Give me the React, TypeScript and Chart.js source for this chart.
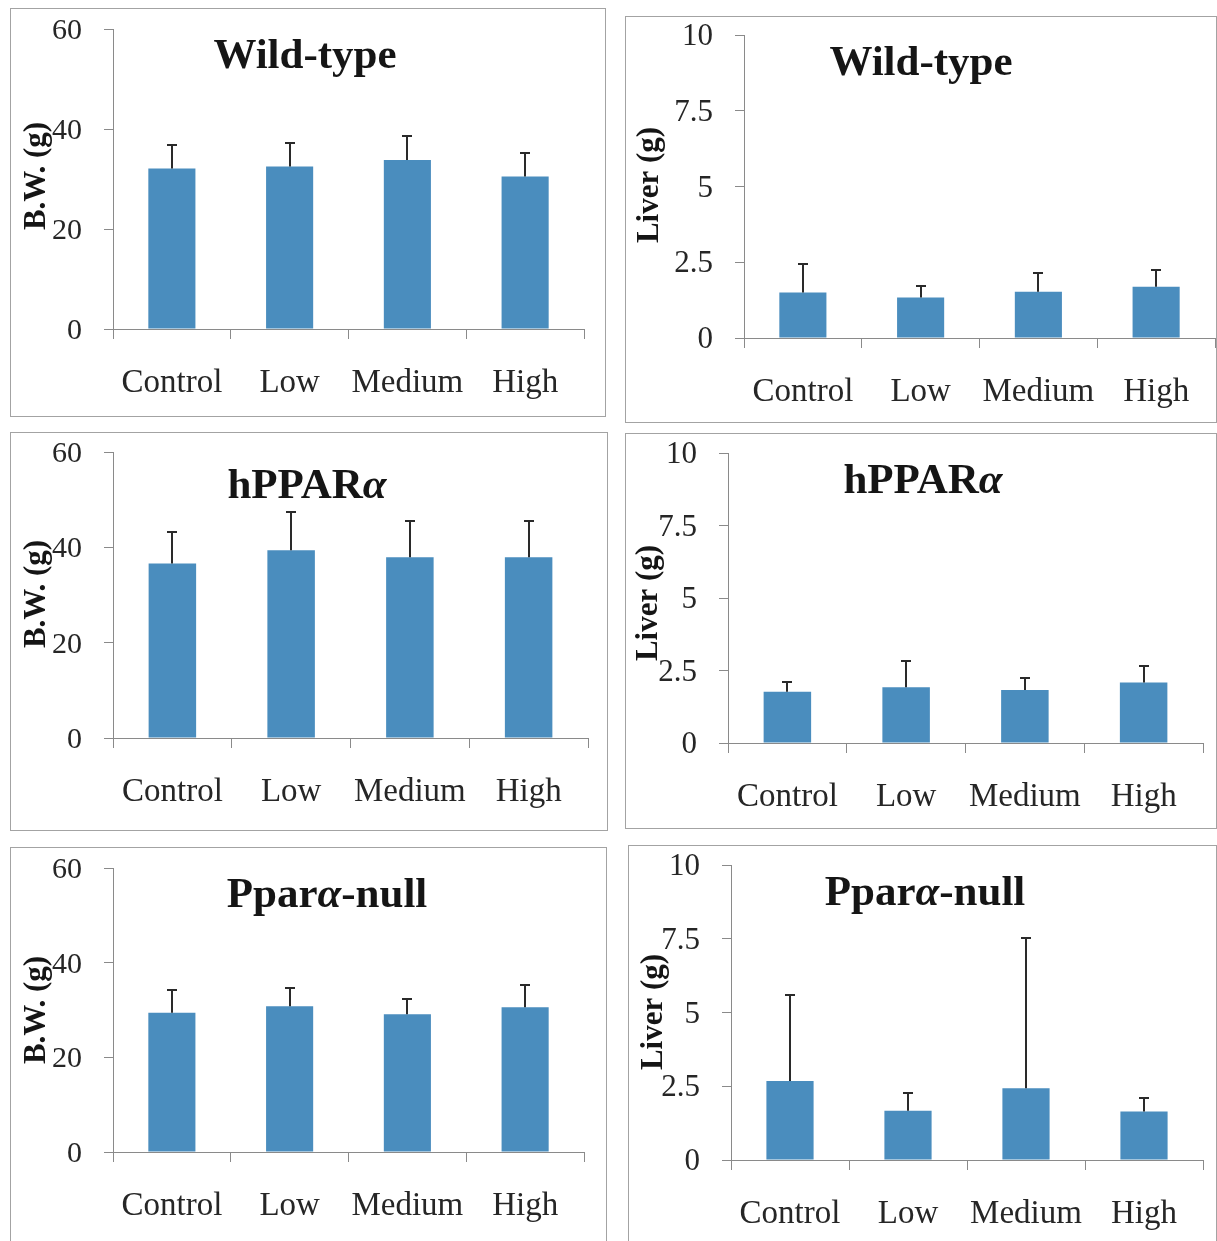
import { useEffect, useRef } from "react";
import { Chart, registerables } from "chart.js";

Chart.register(...registerables);

// ---------- data ----------
const categories = ["Control", "Low", "Medium", "High"];
const bwTicks = [0, 20, 40, 60];
const liverTicks = [0, 2.5, 5, 7.5, 10];

const wildBW = [32.1, 32.5, 33.8, 30.5];
const wildBWsd = [4.8, 4.8, 4.9, 4.8];
const wildLiver = [1.5, 1.34, 1.53, 1.69];
const wildLiversd = [0.93, 0.38, 0.63, 0.54];

const hBW = [36.6, 39.4, 37.9, 37.9];
const hBWsd = [6.7, 8.1, 7.7, 7.7];
const hLiver = [1.77, 1.92, 1.83, 2.09];
const hLiversd = [0.34, 0.92, 0.4, 0.58];

const nullBW = [29.4, 30.8, 29.1, 30.6];
const nullBWsd = [4.8, 3.8, 3.2, 4.7];
const nullLiver = [2.68, 1.67, 2.43, 1.64];
const nullLiversd = [2.91, 0.59, 5.09, 0.45];

const titleWild = [{ text: "Wild-type" }];
const titleH = [{ text: "hPPAR" }, { text: "α", italic: true }];
const titleNull = [{ text: "Ppar" }, { text: "α", italic: true }, { text: "-null" }];

const yTitleBW = "B.W. (g)";
const yTitleLiver = "Liver (g)";

// ---------- styles ----------
const FAMILY = "'Liberation Serif', 'Times New Roman', serif";
const BAR = "#4a8dbe";
const AXIS = "#8a8a8a";
const TXT = "#262626";
const YW = 85;
const XH = 80;

type Seg = { text: string; italic?: boolean };
type PanelDef = {
  key: string;
  title: Seg[];
  yTitle: string;
  means: number[];
  sds: number[];
  ticks: number[];
  box: { x: number; y: number; w: number; h: number };
  area: { l: number; t: number; r: number; b: number };
  titlePos: { x: number; base: number };
  yTitlePos: { x: number; y: number };
  noBottom?: boolean;
  tickFont: number;
};

const panels: PanelDef[] = [
  {
    key: "tl", title: titleWild, yTitle: yTitleBW, means: wildBW, sds: wildBWsd, ticks: bwTicks,
    box: { x: 10, y: 8, w: 596, h: 409 }, area: { l: 113, t: 29, r: 584, b: 329 },
    titlePos: { x: 305, base: 68 }, yTitlePos: { x: 45, y: 176 }, tickFont: 30,
  },
  {
    key: "tr", title: titleWild, yTitle: yTitleLiver, means: wildLiver, sds: wildLiversd, ticks: liverTicks,
    box: { x: 625, y: 16, w: 592, h: 407 }, area: { l: 744, t: 35, r: 1215, b: 338 },
    titlePos: { x: 921, base: 75 }, yTitlePos: { x: 658, y: 185 }, tickFont: 31,
  },
  {
    key: "ml", title: titleH, yTitle: yTitleBW, means: hBW, sds: hBWsd, ticks: bwTicks,
    box: { x: 10, y: 432, w: 598, h: 399 }, area: { l: 113, t: 452, r: 588, b: 738 },
    titlePos: { x: 307, base: 498 }, yTitlePos: { x: 45, y: 594 }, tickFont: 30,
  },
  {
    key: "mr", title: titleH, yTitle: yTitleLiver, means: hLiver, sds: hLiversd, ticks: liverTicks,
    box: { x: 625, y: 433, w: 592, h: 396 }, area: { l: 728, t: 453, r: 1203, b: 743 },
    titlePos: { x: 923, base: 493 }, yTitlePos: { x: 657, y: 603 }, tickFont: 31,
  },
  {
    key: "bl", title: titleNull, yTitle: yTitleBW, means: nullBW, sds: nullBWsd, ticks: bwTicks,
    box: { x: 10, y: 847, w: 597, h: 394 }, area: { l: 113, t: 868, r: 584, b: 1152 },
    titlePos: { x: 327, base: 907 }, yTitlePos: { x: 45, y: 1010 }, noBottom: true, tickFont: 30,
  },
  {
    key: "br", title: titleNull, yTitle: yTitleLiver, means: nullLiver, sds: nullLiversd, ticks: liverTicks,
    box: { x: 628, y: 845, w: 589, h: 396 }, area: { l: 731, t: 865, r: 1203, b: 1160 },
    titlePos: { x: 925, base: 905 }, yTitlePos: { x: 662, y: 1012 }, noBottom: true, tickFont: 31,
  },
];

function Panel({ p }: { p: PanelDef }) {
  const ref = useRef<HTMLCanvasElement>(null);
  useEffect(() => {
    const canvas = ref.current;
    if (!canvas) return;
    const ox = p.box.x;
    const oy = p.box.y;

    const overlay = {
      id: "overlay_" + p.key,
      afterDatasetsDraw(chart: any) {
        const ctx = chart.ctx as CanvasRenderingContext2D;
        const meta = chart.getDatasetMeta(0);
        const ys = chart.scales.y;
        ctx.save();
        // error bars (upper only)
        ctx.strokeStyle = "#2a2a2a";
        ctx.lineWidth = 2;
        meta.data.forEach((bar: any, i: number) => {
          const x = Math.round(bar.x);
          const yb = ys.getPixelForValue(p.means[i]);
          const yt = Math.round(ys.getPixelForValue(p.means[i] + p.sds[i]));
          ctx.beginPath();
          ctx.moveTo(x, yb);
          ctx.lineTo(x, yt);
          ctx.moveTo(x - 5, yt);
          ctx.lineTo(x + 5, yt);
          ctx.stroke();
        });
        // panel title
        ctx.fillStyle = "#151515";
        ctx.textBaseline = "alphabetic";
        ctx.textAlign = "left";
        const fontFor = (s: Seg) => `${s.italic ? "italic " : ""}bold 43px ${FAMILY}`;
        let total = 0;
        const widths = p.title.map((s) => {
          ctx.font = fontFor(s);
          const w = ctx.measureText(s.text).width;
          total += w;
          return w;
        });
        let x = p.titlePos.x - ox - total / 2;
        p.title.forEach((s, i) => {
          ctx.font = fontFor(s);
          ctx.fillText(s.text, x, p.titlePos.base - oy);
          x += widths[i];
        });
        // y-axis title
        ctx.translate(p.yTitlePos.x - ox, p.yTitlePos.y - oy);
        ctx.rotate(-Math.PI / 2);
        ctx.font = `bold 31px ${FAMILY}`;
        ctx.textAlign = "center";
        ctx.textBaseline = "alphabetic";
        ctx.fillText(p.yTitle, 0, 0);
        ctx.restore();
      },
    };

    const chart = new Chart(canvas, {
      type: "bar",
      data: {
        labels: categories,
        datasets: [
          {
            data: p.means,
            backgroundColor: BAR,
            borderWidth: 0,
            barPercentage: 0.4,
            categoryPercentage: 1,
          },
        ],
      },
      options: {
        responsive: false,
        animation: false,
        devicePixelRatio: 1,
        layout: {
          padding: {
            left: p.area.l - ox - YW,
            top: p.area.t - oy,
            right: ox + p.box.w - p.area.r,
            bottom: oy + p.box.h - p.area.b - XH,
          },
        },
        plugins: {
          legend: { display: false },
          tooltip: { enabled: false },
          title: { display: false },
        },
        scales: {
          x: {
            type: "category",
            offset: true,
            grid: {
              display: true,
              drawOnChartArea: false,
              drawTicks: true,
              tickLength: 10,
              offset: true,
              color: AXIS,
              lineWidth: 1,
            },
            border: { display: true, color: AXIS, width: 1 },
            ticks: {
              font: { family: FAMILY, size: 33 },
              color: TXT,
              padding: 25,
              maxRotation: 0,
              minRotation: 0,
              autoSkip: false,
            },
            afterFit: (s: any) => {
              s.height = XH;
              s.paddingLeft = 0;
              s.paddingRight = 0;
            },
          },
          y: {
            type: "linear",
            min: p.ticks[0],
            max: p.ticks[p.ticks.length - 1],
            afterBuildTicks: (s: any) => {
              s.ticks = p.ticks.map((v) => ({ value: v }));
            },
            grid: {
              display: true,
              drawOnChartArea: false,
              drawTicks: true,
              tickLength: 9,
              color: AXIS,
              lineWidth: 1,
            },
            border: { display: true, color: AXIS, width: 1 },
            ticks: {
              font: { family: FAMILY, size: p.tickFont },
              color: TXT,
              padding: 22,
              labelOffset: 2,
              callback: (v: any) => String(v),
            },
            afterFit: (s: any) => {
              s.width = YW;
              s.paddingTop = 0;
              s.paddingBottom = 0;
            },
          },
        },
      },
      plugins: [overlay],
    } as any);
    return () => chart.destroy();
  }, [p]);

  return (
    <>
      <canvas
        ref={ref}
        width={p.box.w}
        height={p.box.h}
        style={{ position: "absolute", left: p.box.x, top: p.box.y, width: p.box.w, height: p.box.h }}
      />
      <div
        style={{
          position: "absolute",
          left: p.box.x,
          top: p.box.y,
          width: p.box.w,
          height: p.box.h,
          boxSizing: "border-box",
          border: "1px solid #a3a3a3",
          borderBottom: p.noBottom ? "none" : "1px solid #a3a3a3",
          pointerEvents: "none",
        }}
      />
    </>
  );
}

export default function App() {
  return (
    <div
      style={{
        position: "absolute",
        left: 0,
        top: 0,
        width: 1217,
        height: 1241,
        overflow: "hidden",
        background: "#ffffff",
      }}
    >
      {panels.map((p) => (
        <Panel key={p.key} p={p} />
      ))}
    </div>
  );
}
